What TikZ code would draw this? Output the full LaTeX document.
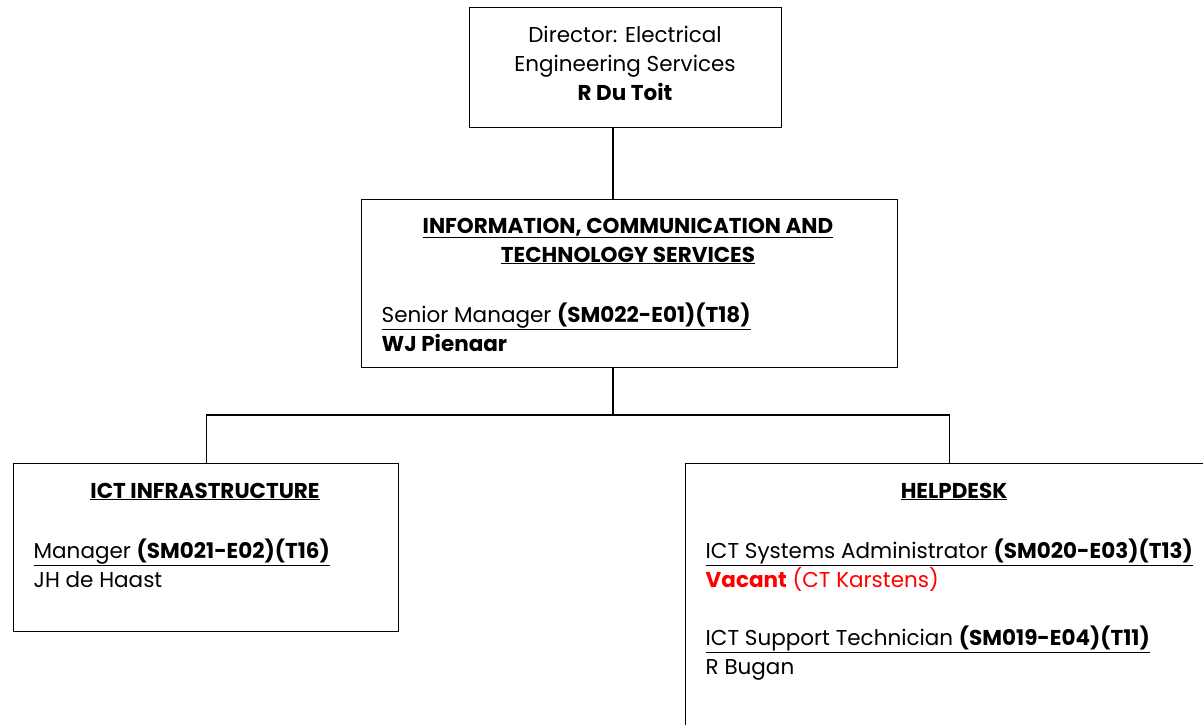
\documentclass[tikz,border=0pt]{standalone}
\usepackage{fontspec}
\setmainfont{Poppins}
\usetikzlibrary{positioning}

\tikzset{
  unit/.style={draw, line width=1.4pt, rectangle, inner sep=0pt},
  txt/.style={inner sep=0pt, font=\fontsize{21.5}{29}\selectfont},
}

\begin{document}
\begin{tikzpicture}[x=1pt,y=-1pt,line width=1.4pt]
\useasboundingbox (0,0) rectangle (1203,725);
\clip (0,0) rectangle (1203,725);

% boxes
\node[unit, minimum width=312, minimum height=120, anchor=north west] (dir) at (469,7) {};
\node[unit, minimum width=536, minimum height=168, anchor=north west] (ict) at (361,199) {};
\node[unit, minimum width=385, minimum height=168, anchor=north west] (infra) at (13,463) {};
\node[unit, minimum width=528, minimum height=320, anchor=north west] (help) at (685,463) {};

% lines
\coordinate (spine) at (613,0);
\coordinate (bar) at (613,415);
\draw (dir.south -| spine)--(ict.north -| spine);
\draw (ict.south -| spine)--(bar);
\draw (infra.north) |- (bar) -| (help.north);

% texts
\node[txt, align=center, anchor=north] (dirtxt) at (625,25)
  {Director: Electrical\\Engineering Services\\\textbf{R Du Toit}};
\node[txt, align=center, anchor=north] (icttitle) at (628,217)
  {\textbf{\underline{INFORMATION, COMMUNICATION AND}}\\\textbf{\underline{TECHNOLOGY SERVICES}}};
\node[txt, align=left, anchor=north west] (ictbody) at (381,302)
  {\underline{Senior Manager \textbf{(SM022-E01)(T18)}}\\\textbf{WJ Pienaar}};
\node[txt, anchor=north] (infratitle) at (205,482) {\textbf{\underline{ICT INFRASTRUCTURE}}};
\node[txt, align=left, anchor=north west] (infrabody) at (33,538)
  {\underline{Manager \textbf{(SM021-E02)(T16)}}\\JH de Haast};
\node[txt, anchor=north] (helptitle) at (954,482) {\textbf{\underline{HELPDESK}}};
\node[txt, align=left, anchor=north west] (helpbody) at (705,538)
  {\underline{ICT Systems Administrator \textbf{(SM020-E03)(T13)}}\\
   \textcolor{red}{\textbf{Vacant} (CT Karstens)}\\[29pt]
   \underline{ICT Support Technician \textbf{(SM019-E04)(T11)}}\\R Bugan};

\end{tikzpicture}
\end{document}
